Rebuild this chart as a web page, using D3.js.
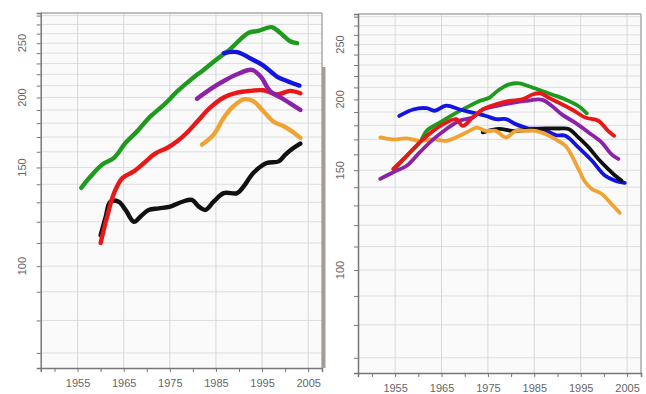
<!DOCTYPE html>
<html><head><meta charset="utf-8">
<script src="https://cdn.jsdelivr.net/npm/d3@7"></script>
<style>
html,body{margin:0;padding:0;background:#fff;}
svg{display:block;}
text{font-family:"Liberation Sans",Arial,sans-serif;fill:#666;}
</style></head>
<body>
<svg id="chart" width="646" height="394"></svg>
<script>
// ---- data ----
const xTickLabels = [1955, 1965, 1975, 1985, 1995, 2005];
const xMinorTicks = [1950, 1955, 1960, 1965, 1970, 1975, 1980, 1985, 1990, 1995, 2000, 2005];
const yTickLabels = [100, 150, 200, 250];
const yMinorTicks = [70, 80, 90, 100, 110, 120, 130, 140, 150, 160, 170, 180, 190, 200, 210, 220, 230, 240, 250, 260, 270, 280];
const xDomain = [1947, 2008];
const yDomain = [65.8, 283];

// Left panel series: [year, value]
const leftBlack = [[1960.0,113.6],[1961.1,122.5],[1962.1,130.3],[1963.9,130.3],[1965.4,126],[1967.2,120],[1968.6,122.5],[1970.4,126],[1972.6,126.8],[1975.1,127.7],[1977.7,130.3],[1979.8,131.3],[1981.3,127.7],[1982.7,126],[1984.5,130.3],[1986.7,135],[1989.6,135],[1991.0,138.7],[1993.1,146.6],[1996.0,152.8],[1998.6,153.8],[2000.0,158],[2001.8,162.5],[2003.3,165.5]];
const leftOrange = [[1982.0,164.8],[1984.5,171.7],[1986.7,184],[1988.8,193],[1991.0,198.5],[1993.1,197],[1995.3,189],[1997.5,181],[1999.7,177.7],[2001.5,174],[2003.3,169.4]];
const leftRed = [[1960.0,110],[1961.4,122.5],[1962.9,135],[1964.7,143.6],[1967.2,147.6],[1969.4,152.8],[1971.9,159],[1974.4,162.5],[1976.6,167],[1978.7,173],[1980.9,181],[1983.8,192],[1986.7,200],[1989.6,204],[1992.4,205.5],[1995.3,206],[1998.2,202.5],[2001.1,205.5],[2003.3,203.5]];
const leftPurple = [[1980.9,199],[1983.8,207],[1986.7,214],[1989.6,220],[1992.8,224],[1994.7,218],[1996.8,205],[1999.7,198.5],[2003.3,190]];
const leftBlue = [[1986.7,240],[1989.6,241],[1992.4,235],[1995.3,228],[1998.2,218],[2000.4,214],[2003.1,210]];
const leftGreen = [[1955.8,138],[1957.8,144.5],[1960.3,151.7],[1962.9,156],[1965.4,166],[1967.9,174],[1970.8,185],[1973.7,194],[1976.6,205],[1979.5,215],[1982.3,224],[1985.2,234],[1988.1,244],[1990.3,254],[1992.1,261],[1994.2,263],[1997.1,267],[1998.9,261],[2001.1,252],[2002.6,250]];

// Right panel series
const rightGreen = [[1955.0,151],[1957.5,159],[1960.3,168],[1961.8,176],[1964.6,182],[1967.5,188],[1970.3,193.4],[1973.2,198.8],[1975.3,201.4],[1977.4,208],[1979.6,212.6],[1981.7,213.5],[1983.8,211],[1986.0,208],[1988.8,204],[1991.7,200],[1994.5,194.7],[1996.3,189]];
const rightBlue = [[1955.9,187],[1958.9,192],[1961.8,193],[1963.5,191],[1966.0,195],[1968.9,192],[1971.7,189.6],[1974.6,187],[1976.7,184.6],[1978.9,184.6],[1981.0,180.9],[1983.8,177.7],[1986.7,177.4],[1989.6,173],[1991.7,172.5],[1994.5,164.6],[1997.4,156],[2000.2,146.8],[2002.4,143.8],[2004.5,142.5]];
const rightBlack = [[1973.9,174.9],[1977.4,177.4],[1980.3,176],[1983.8,176.8],[1987.4,177.7],[1990.3,177.7],[1992.4,177.4],[1994.5,171.4],[1996.7,164.6],[1998.8,157],[2000.9,150.8],[2002.4,146.8],[2003.8,143.8]];
const rightOrange = [[1951.8,171.4],[1954.6,170],[1957.5,170.7],[1960.3,169],[1963.2,170],[1966.0,169],[1968.9,172.5],[1971.0,176],[1972.5,178.4],[1974.6,176],[1976.7,176],[1978.9,171.4],[1981.0,176],[1983.1,176],[1985.3,176],[1987.4,173.7],[1989.6,170],[1991.7,165.7],[1993.1,159],[1994.5,150.8],[1996.0,142.9],[1997.4,139],[1999.5,136.3],[2001.6,130.9],[2003.4,126.2]];
const rightPurple = [[1951.8,144.8],[1954.6,148.8],[1957.5,152.8],[1960.3,161.3],[1963.2,170],[1966.0,177.2],[1968.9,183.4],[1971.7,185.8],[1973.9,192],[1976.7,194.7],[1980.3,197.3],[1983.1,198.8],[1986.7,199.7],[1988.8,194.7],[1991.0,188],[1993.8,182],[1996.7,174.9],[1999.5,168],[2001.6,160.2],[2003.1,157]];
const rightRed = [[1954.6,150.8],[1957.5,159],[1960.3,168],[1963.2,176],[1966.0,182],[1968.2,184.6],[1969.6,179.6],[1971.7,185.8],[1973.9,192],[1976.7,196],[1979.6,198.8],[1982.4,200],[1984.6,204],[1986.3,205],[1988.1,201.4],[1990.3,197.3],[1993.1,192],[1996.0,185.8],[1998.8,183.4],[2000.9,176],[2002.2,172.5]];

const colors = {green:"#1e9a1e", blue:"#1414e0", purple:"#8c22a8", red:"#e81818", orange:"#f0a232", black:"#111111"};

const panels = [
  {x0:40.7, x1:322, y0:13, y1:368, lw:4.4, labelX:22,
   series:[[leftBlack,"black"],[leftOrange,"orange"],[leftRed,"red"],[leftPurple,"purple"],[leftGreen,"green"],[leftBlue,"blue"]]},
  {x0:358, x1:641, y0:14, y1:373, lw:3.8, labelX:340,
   series:[[rightGreen,"green"],[rightBlue,"blue"],[rightBlack,"black"],[rightOrange,"orange"],[rightPurple,"purple"],[rightRed,"red"]]}
];

const svg = d3.select("#chart");

panels.forEach(p => {
  const x = d3.scaleLinear().domain(xDomain).range([p.x0, p.x1]);
  const y = d3.scaleLog().domain(yDomain).range([p.y1, p.y0]);
  const g = svg.append("g");

  g.append("rect").attr("x", p.x0).attr("y", p.y0)
    .attr("width", p.x1 - p.x0).attr("height", p.y1 - p.y0)
    .attr("fill", "#fafafa");

  // horizontal grid
  g.selectAll(".hg").data(yMinorTicks.filter(v => v > yDomain[0] && v < yDomain[1])).enter()
    .append("line").attr("x1", p.x0).attr("x2", p.x1)
    .attr("y1", d => y(d)).attr("y2", d => y(d))
    .attr("stroke", "#dedede").attr("stroke-width", 1);
  // vertical grid
  g.selectAll(".vg").data(xTickLabels).enter()
    .append("line").attr("y1", p.y0).attr("y2", p.y1)
    .attr("x1", d => x(d)).attr("x2", d => x(d))
    .attr("stroke", "#d8d8d8").attr("stroke-width", 1);

  // frame top/right
  g.append("line").attr("x1", p.x0).attr("x2", p.x1).attr("y1", p.y0).attr("y2", p.y0)
    .attr("stroke", "#aaa").attr("stroke-width", 1.5);
  g.append("line").attr("x1", p.x1).attr("x2", p.x1).attr("y1", p.y0).attr("y2", p.y1)
    .attr("stroke", "#aaa").attr("stroke-width", 1.5);

  // axes
  const xAxis = d3.axisBottom(x).tickValues(xMinorTicks).tickSize(4)
    .tickFormat(d => xTickLabels.includes(d) ? String(d) : "");
  const xa = g.append("g").attr("transform", `translate(0,${p.y1})`).call(xAxis);
  xa.select(".domain").attr("stroke", "#777").attr("stroke-width", 1.5);
  xa.selectAll(".tick line").attr("stroke", "#777");
  xa.selectAll("text").attr("fill", "#666").attr("font-size", 11).attr("dy", "1.1em")
    .attr("font-family", '"Liberation Sans",Arial,sans-serif');

  const yAxis = d3.axisLeft(y).tickValues(yMinorTicks.filter(v => v > yDomain[0] && v < yDomain[1]))
    .tickSize(4).tickFormat("");
  const ya = g.append("g").attr("transform", `translate(${p.x0},0)`).call(yAxis);
  ya.select(".domain").attr("stroke", "#777").attr("stroke-width", 1.5);
  ya.selectAll(".tick line").attr("stroke", "#777");

  g.selectAll(".ylab").data(yTickLabels).enter().append("text")
    .attr("transform", d => `translate(${p.labelX},${y(d)}) rotate(-90)`)
    .attr("text-anchor", "middle").attr("dy", "0.35em")
    .attr("font-size", 11).attr("fill", "#777")
    .text(d => d);

  // lines
  const line = d3.line().x(d => x(d[0])).y(d => y(d[1])).curve(d3.curveCatmullRom.alpha(0.5));
  p.series.forEach(([data, c]) => {
    g.append("path").datum(data).attr("d", line)
      .attr("fill", "none").attr("stroke", colors[c])
      .attr("stroke-width", p.lw).attr("stroke-linecap", "round").attr("stroke-linejoin", "round");
  });
});

// grey separator strip at the right of the left panel
svg.append("rect").attr("x", 322).attr("y", 67).attr("width", 3.5).attr("height", 301)
  .attr("fill", "#a39d9a");
</script>
</body></html>
